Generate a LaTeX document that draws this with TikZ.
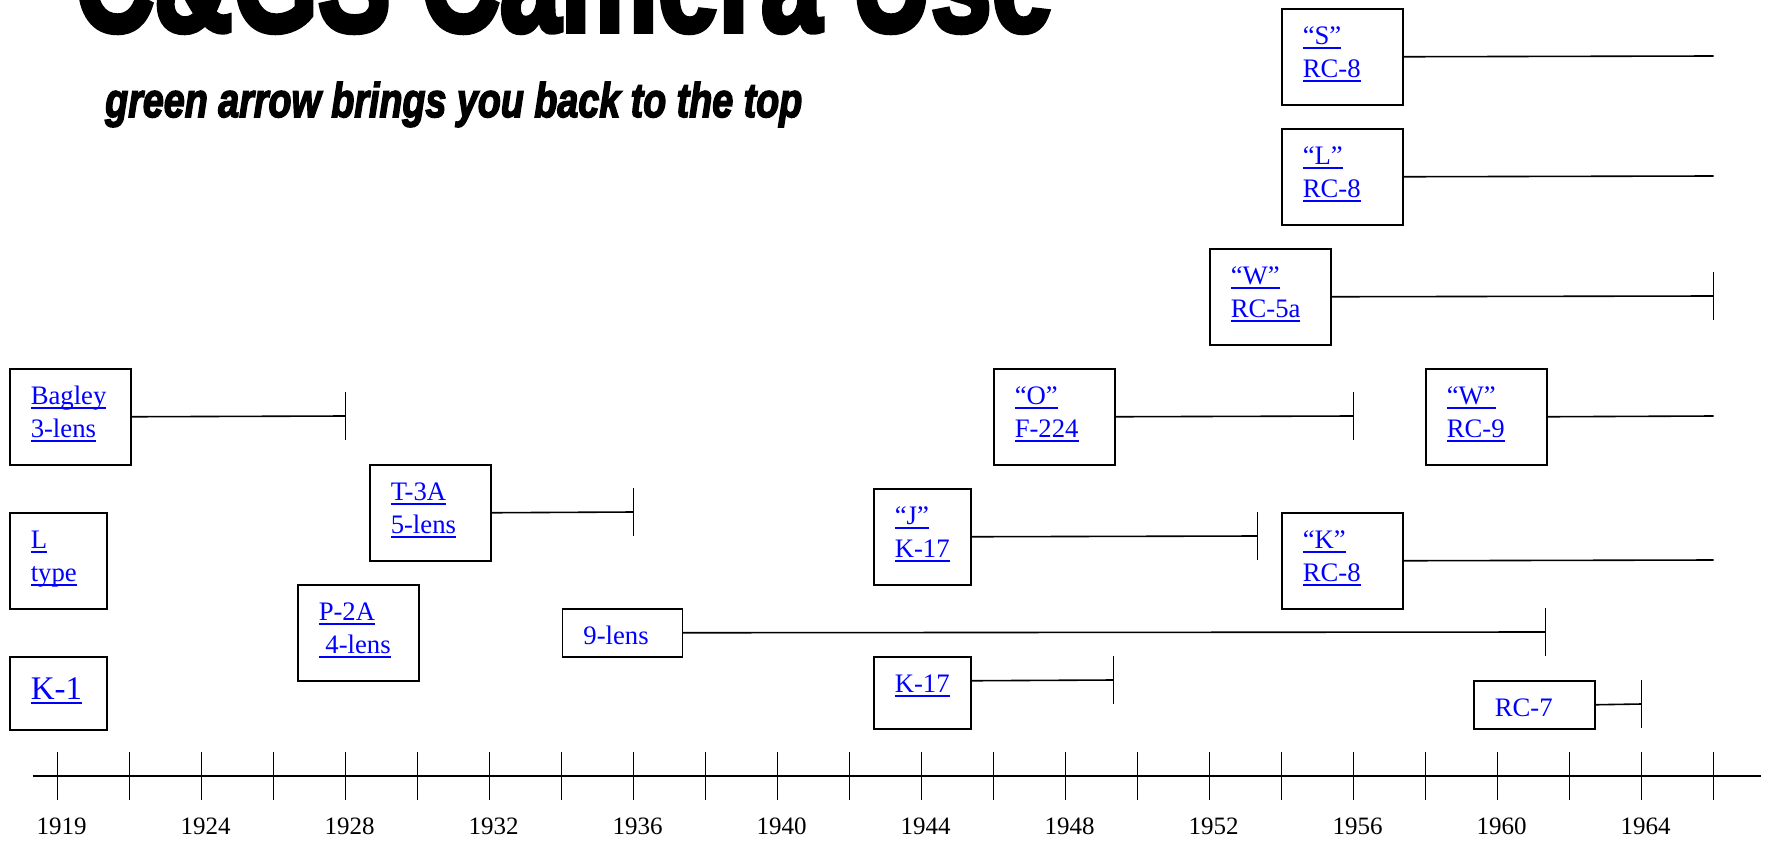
\documentclass[tikz,border=0pt]{standalone}
\usepackage{fontspec}
\usepackage{graphicx}
\setmainfont{Liberation Serif}
\newfontfamily\heavyfont[FakeBold=4]{Liberation Sans Bold}
\newfontfamily\heavyitfont[FakeBold=3.5]{Liberation Sans Bold Italic}

% underlined link text: rule sits just under the baseline
\newcommand\ulk[1]{\leavevmode\setbox0=\hbox{#1}\rlap{\rule[-4.5pt]{\wd0}{1.8pt}}\box0}
% box contents: width, height, first baseline, font size, lines
\newcommand\boxtext[5]{\parbox[c][#2][t]{#1}{\fontsize{#4}{33pt}\selectfont\color{blue}\raggedright\leftskip=21pt\rule{0pt}{#3}#5}}

\tikzset{
  camera/.style={draw, line width=1.5pt, inner sep=0pt, anchor=north west},
  span/.style={line width=1.6pt},
  year/.style={anchor=base, inner sep=0pt, font=\fontsize{25pt}{30pt}\selectfont},
}

\begin{document}
\begin{tikzpicture}[x=1pt,y=-1pt]
\clip (0,0) rectangle (1770,841);
\fill[white] (0,0) rectangle (1770,841);

% headings
\node[anchor=base west, inner sep=0pt] (title) at (75,31)
  {\resizebox{977pt}{100pt}{\heavyfont C\&GS Camera Use}};
\node[anchor=base west, inner sep=0pt] (subtitle) at (105,117)
  {\resizebox{697pt}{35pt}{\heavyitfont green arrow brings you back to the top}};

% cameras
\node[camera] (bagley) at (9,368) {\boxtext{121pt}{96pt}{36pt}{26.7pt}{\ulk{Bagley}\\\ulk{3-lens}}};
\node[camera] (ltype) at (9,512) {\boxtext{97pt}{96pt}{36pt}{26.7pt}{\ulk{L}\\\ulk{type}}};
\node[camera] (kone) at (9,656) {\boxtext{97pt}{73pt}{43pt}{33pt}{\ulk{K-1}}};
\node[camera] (tthreea) at (369,464) {\boxtext{121pt}{96pt}{36pt}{26.7pt}{\ulk{T-3A}\\\ulk{5-lens}}};
\node[camera] (ptwoa) at (297,584) {\boxtext{121pt}{96pt}{36pt}{26.7pt}{\ulk{P-2A}\\\ulk{\ 4-lens}}};
\node[camera] (ninelens) at (561.7,608) {\boxtext{120pt}{48pt}{36pt}{26.7pt}{9-lens}};
\node[camera] (jk) at (873,488) {\boxtext{97pt}{96pt}{36pt}{26.7pt}{\ulk{“J”}\\\ulk{K-17}}};
\node[camera] (kseventeen) at (873,656) {\boxtext{97pt}{72pt}{36pt}{26.7pt}{\ulk{K-17}}};
\node[camera] (ofour) at (993,368) {\boxtext{121pt}{96pt}{36pt}{26.7pt}{\ulk{“O”}\\\ulk{F-224}}};
\node[camera] (wnine) at (1425,368) {\boxtext{121pt}{96pt}{36pt}{26.7pt}{\ulk{“W”}\\\ulk{RC-9}}};
\node[camera] (krc) at (1281,512) {\boxtext{121pt}{96pt}{36pt}{26.7pt}{\ulk{“K”}\\\ulk{RC-8}}};
\node[camera] (rcseven) at (1473,680) {\boxtext{121pt}{48pt}{36pt}{26.7pt}{RC-7}};
\node[camera] (wfive) at (1209,248) {\boxtext{121pt}{96pt}{36pt}{26.7pt}{\ulk{“W”}\\\ulk{RC-5a}}};
\node[camera] (lrc) at (1281,128) {\boxtext{121pt}{96pt}{36pt}{26.7pt}{\ulk{“L”}\\\ulk{RC-8}}};
\node[camera] (src) at (1281,8) {\boxtext{121pt}{96pt}{36pt}{26.7pt}{\ulk{“S”}\\\ulk{RC-8}}};

% end points of the service spans
\coordinate (bagleyend) at (345.6,416);
\coordinate (tthreeaend) at (633.6,512);
\coordinate (nineend) at (1545.6,632);
\coordinate (jkend) at (1257.6,536);
\coordinate (kseventeenend) at (1113.6,680);
\coordinate (ofourend) at (1353.6,416);
\coordinate (wnineend) at (1713.6,416);
\coordinate (krcend) at (1713.6,560);
\coordinate (rcsevenend) at (1641.6,704);
\coordinate (wfiveend) at (1713.6,296);
\coordinate (lrcend) at (1713.6,176);
\coordinate (srcend) at (1713.6,56);

% spans that end (closed with a bar)
\foreach \b/\e in {bagley/bagleyend, tthreea/tthreeaend, ninelens/nineend,
                   jk/jkend, ofour/ofourend, rcseven/rcsevenend, wfive/wfiveend}{
  \draw[span] (\b.east) -- (\e);
  \draw[span] ([yshift=24pt]\e) -- ([yshift=-24pt]\e);
}
\draw[span] ([yshift=12pt]kseventeen.east) -- (kseventeenend);
\draw[span] ([yshift=24pt]kseventeenend) -- ([yshift=-24pt]kseventeenend);

% spans still running
\foreach \b/\e in {wnine/wnineend, krc/krcend, lrc/lrcend, src/srcend}{
  \draw[span] (\b.east) -- (\e);
}

% time axis
\coordinate (axisstart) at (32.7,776);
\coordinate (axisend) at (1761,776);
\draw[line width=1.8pt] (axisstart) -- (axisend);
\foreach \i in {0,...,23}{
  \draw[line width=1.5pt] (57.6+72*\i,752) -- (57.6+72*\i,800);
}
\foreach \i/\yr in {0/1919,2/1924,4/1928,6/1932,8/1936,10/1940,12/1944,14/1948,16/1952,18/1956,20/1960,22/1964}{
  \node[year] (yr\yr) at (61.6+72*\i,834) {\yr};
}
\end{tikzpicture}
\end{document}
